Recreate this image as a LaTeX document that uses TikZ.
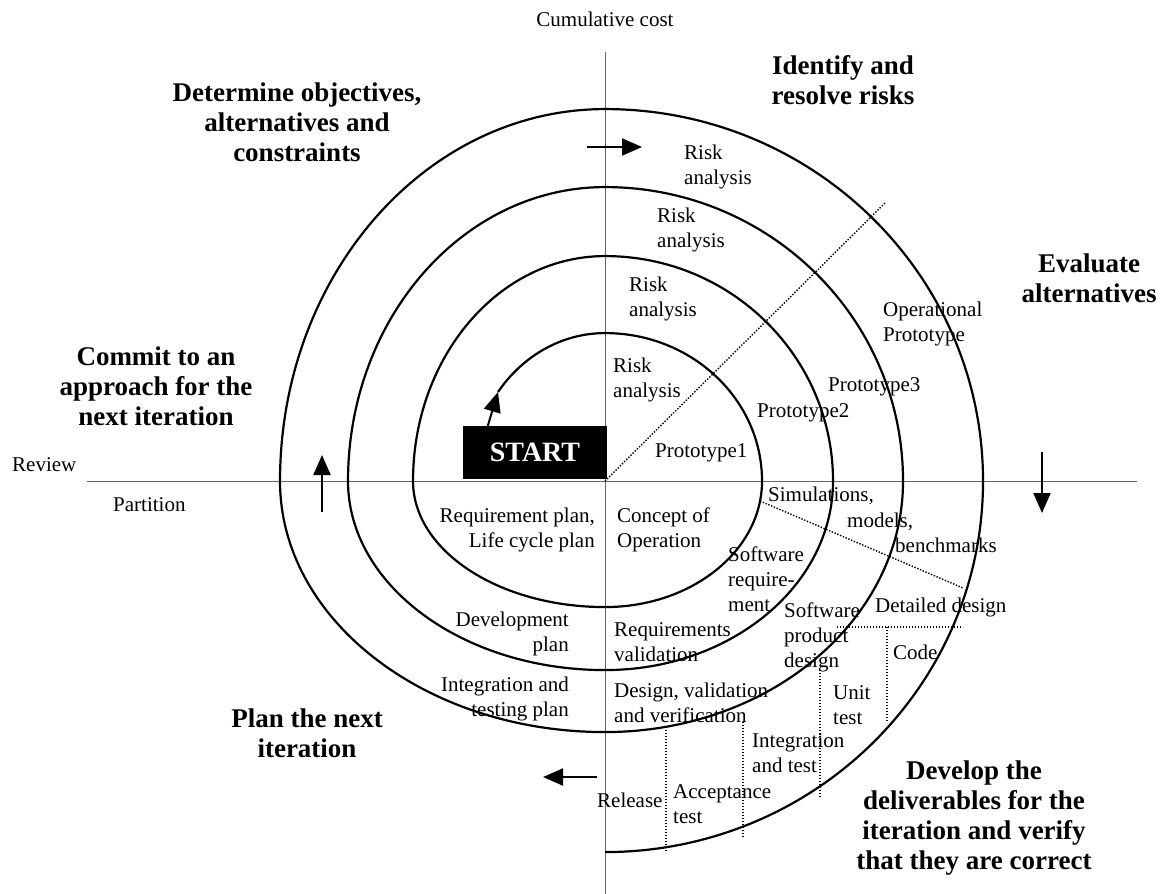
\documentclass[tikz,border=0pt]{standalone}
\usepackage{fontspec}
\setmainfont{Liberation Serif}
\usetikzlibrary{arrows.meta}
\tikzset{
  txt/.style={
    anchor=north west,
    inner sep=0pt,
    align=left,
    font=\fontsize{21}{25}\selectfont
  },
  txtr/.style={
    txt,
    anchor=north east,
    align=right
  },
  head/.style={
    anchor=north,
    inner sep=0pt,
    align=center,
    font=\fontsize{27}{30}\selectfont\bfseries
  },
  startbox/.style={
    fill=black,
    text=white,
    minimum width=144pt,
    minimum height=53pt,
    inner sep=0pt,
    font=\fontsize{28}{30}\selectfont\bfseries
  },
  axisline/.style={
    draw=black!60,
    line width=1pt
  },
  guide/.style={
    dash pattern=on 1.4pt off 1.6pt,
    line width=1.4pt
  },
  spiral/.style={
    line width=2.2pt
  },
  arr/.style={
    line width=2pt,
    -{Triangle[length=20pt,width=17pt]}
  }
}

\begin{document}
\begin{tikzpicture}[x=1pt, y=-1pt]
        \useasboundingbox (0,0) rectangle (1162,894);

        % axes
        \draw[axisline] (605,52) -- (605,894);
        \draw[axisline] (87,481) -- (1137,481);

        \node[txt, anchor=north] (cost) at (605,12) {Cumulative cost};
        \node[txt] (review) at (12,457) {Review};
        \node[txt] (partition) at (113,497) {Partition};

        % quadrant headings
        \node[head] (hdobj) at (297,83) {Determine objectives,\\alternatives and\\constraints};
        \node[head] (hdrisk) at (843,55) {Identify and\\resolve risks};
        \node[head] (hdeval) at (1089,254) {Evaluate\\alternatives};
        \node[head] (hdcommit) at (156,347) {Commit to an\\approach for the\\next iteration};
        \node[head] (hdplan) at (307,709) {Plan the next\\iteration};
        \node[head] (hddev) at (974,761) {Develop the\\deliverables for the\\iteration and verify\\that they are correct};

        % spiral
        \node[startbox] (start) at (535,452.5) {START};
        \coordinate (s0) at (498,392);
        \draw[spiral] (s0)
          arc[start angle=-143, end angle=-90, x radius=134, y radius=148]
          arc[start angle=-90, end angle=0, x radius=157, y radius=148]
          arc[start angle=0, end angle=90, x radius=157, y radius=126]
          arc[start angle=90, end angle=180, x radius=192, y radius=126]
          arc[start angle=180, end angle=270, x radius=192, y radius=225]
          arc[start angle=270, end angle=360, x radius=228, y radius=225]
          arc[start angle=0, end angle=90, x radius=228, y radius=189]
          arc[start angle=90, end angle=180, x radius=257, y radius=189]
          arc[start angle=180, end angle=270, x radius=257, y radius=294]
          arc[start angle=270, end angle=360, x radius=298, y radius=294]
          arc[start angle=0, end angle=90, x radius=298, y radius=251]
          arc[start angle=90, end angle=180, x radius=325, y radius=251]
          arc[start angle=180, end angle=270, x radius=325, y radius=372]
          arc[start angle=270, end angle=360, x radius=378, y radius=372]
          arc[start angle=0, end angle=90, x radius=378, y radius=371];
        \draw[arr] ([xshift=25pt]start.north west) -- (s0);

        % direction arrows
        \coordinate (ra0) at (587,147);
        \coordinate (ra1) at (642,147);
        \coordinate (da0) at (1042,452);
        \coordinate (da1) at (1042,513);
        \coordinate (la0) at (597,777);
        \coordinate (la1) at (543,777);
        \coordinate (ua0) at (322,512);
        \coordinate (ua1) at (322,455);
        \draw[arr] (ra0) -- (ra1);
        \draw[arr] (da0) -- (da1);
        \draw[arr] (la0) -- (la1);
        \draw[arr] (ua0) -- (ua1);

        % dotted dividers
        \coordinate (o) at (605,481);
        \coordinate (d1) at (885,203);
        \coordinate (m0) at (760,501);
        \coordinate (m1) at (963,588);
        \coordinate (h0) at (837,627);
        \coordinate (h1) at (963,627);
        \coordinate (c0) at (887,627);
        \coordinate (c1) at (887,723);
        \coordinate (u0) at (820,670);
        \coordinate (u1) at (820,798);
        \coordinate (i0) at (743,722);
        \coordinate (i1) at (743,838);
        \coordinate (a0) at (666,730);
        \coordinate (a1) at (666,853);
        \draw[guide] (o) -- (d1);
        \draw[guide] (m0) -- (m1);
        \draw[guide] (h0) -- (h1);
        \draw[guide] (c0) -- (c1);
        \draw[guide] (u0) -- (u1);
        \draw[guide] (i0) -- (i1);
        \draw[guide] (a0) -- (a1);

        % labels in the rings
        \node[txt] (risk1) at (684,145) {Risk\\analysis};
        \node[txt] (risk2) at (657,208) {Risk\\analysis};
        \node[txt] (risk3) at (629,277) {Risk\\analysis};
        \node[txt] (risk4) at (613,358) {Risk\\analysis};
        \node[txt] (opproto) at (883,302) {Operational\\Prototype};
        \node[txt] (proto3) at (828,377) {Prototype3};
        \node[txt] (proto2) at (757,403) {Prototype2};
        \node[txt] (proto1) at (655,443) {Prototype1};
        \node[txtr] (reqplan) at (595,508) {Requirement plan,\\Life cycle plan};
        \node[txt] (concept) at (617,508) {Concept of\\Operation};
        \node[txt] (sim) at (768,487) {Simulations,};
        \node[txt] (models) at (847,513) {models,};
        \node[txt] (bench) at (895,538) {benchmarks};
        \node[txt] (swreq) at (728,547) {Software\\require-\\ment};
        \node[txt] (swprod) at (784,603) {Software\\product\\design};
        \node[txt] (detail) at (875,598) {Detailed design};
        \node[txt] (code) at (893,645) {Code};
        \node[txt] (unit) at (833,685) {Unit\\test};
        \node[txt] (integ) at (752,733) {Integration\\and test};
        \node[txt] (accept) at (673,784) {Acceptance\\test};
        \node[txt] (release) at (597,793) {Release};
        \node[txt] (reqval) at (614,622) {Requirements\\validation};
        \node[txt] (desval) at (614,683) {Design, validation\\and verification};
        \node[txtr] (devplan) at (569,612) {Development\\plan};
        \node[txtr] (intplan) at (569,677) {Integration and\\testing plan};
\end{tikzpicture}
\end{document}
